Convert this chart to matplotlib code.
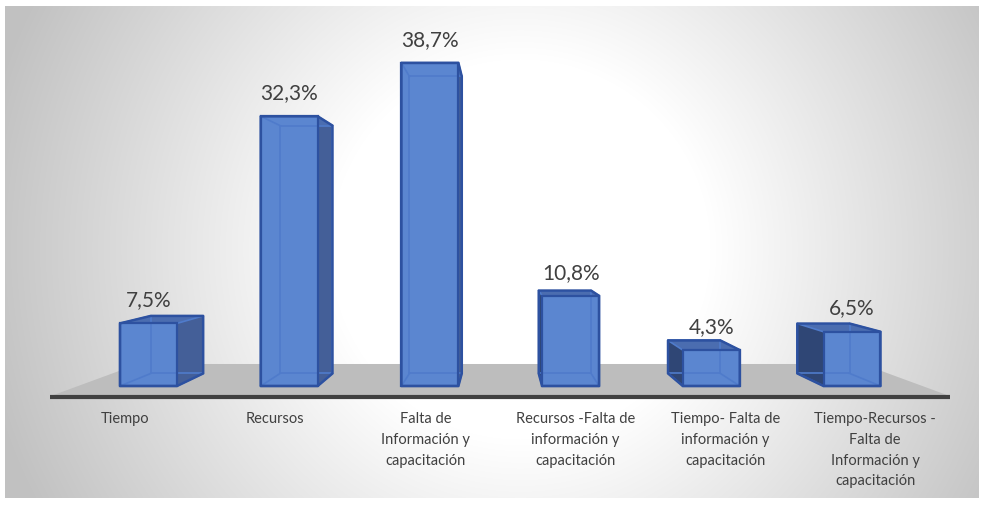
import numpy as np
import matplotlib
matplotlib.use("Agg")
import matplotlib.pyplot as plt
from matplotlib.patches import Polygon

plt.rcParams['font.family'] = ['Lato', 'DejaVu Sans']

# data
categorias = ["Tiempo", "Recursos", "Falta de\nInformación y\ncapacitación",
              "Recursos -Falta de\ninformación y\ncapacitación",
              "Tiempo- Falta de\ninformación y\ncapacitación",
              "Tiempo-Recursos -\nFalta de\nInformación y\ncapacitación"]
valores = [7.5, 32.3, 38.7, 10.8, 4.3, 6.5]
etiquetas = ["7,5%", "32,3%", "38,7%", "10,8%", "4,3%", "6,5%"]

W, H = 982, 506
x0_px, dx_px = 148.5, 140.7      # pixel position of first bar, spacing
y0_px, dy_px = 387.0, 8.35       # pixel of base, pixels per percent

def xd(px):
    return (px - x0_px) / dx_px

def yd(py):
    return (y0_px - py) / dy_px

# perspective: vanishing point and depth scale
VX, VY = 2.5, yd(232)
S_BACK = 0.919
S_FLOOR_FRONT, S_FLOOR_BACK = 1.066, 0.858
BAR_W = 0.405

def proj(x, y, s):
    return (VX + (x - VX) * s, VY + (y - VY) * s)

fig = plt.figure(figsize=(W / 100, H / 100), dpi=100)
ax = fig.add_axes([0, 0, 1, 1])
ax.axis('off')

# radial background of the chart area
gx, gy = np.meshgrid(np.arange(5, 979), np.arange(7, 499))
r = np.hypot(gx - 520, gy - 250)
g = 1.0 - (62 / 255) * np.clip((r - 190) / 360, 0, 1)
img = np.dstack([g, g, g])
ax.imshow(img, extent=(xd(5), xd(979), yd(499), yd(7)), origin='upper',
          aspect='auto', zorder=0, interpolation='bilinear')

# floor
fl, fr = -0.5, 5.5
floor = [proj(fl, 0, S_FLOOR_FRONT), proj(fr, 0, S_FLOOR_FRONT),
         proj(fr, 0, S_FLOOR_BACK), proj(fl, 0, S_FLOOR_BACK)]
ax.add_patch(Polygon(floor, closed=True, facecolor='#bdbdbd',
                     edgecolor='none', zorder=1))
fa, fb = floor[0], floor[1]
ax.plot([fa[0], fb[0]], [fa[1] - 0.1, fb[1] - 0.1], color='#404040', lw=3,
        solid_capstyle='butt', zorder=2)


def hull(points):
    pts = sorted(set(points))
    def cross(o, a, b):
        return (a[0]-o[0])*(b[1]-o[1]) - (a[1]-o[1])*(b[0]-o[0])
    lower, upper = [], []
    for p in pts:
        while len(lower) >= 2 and cross(lower[-2], lower[-1], p) <= 0:
            lower.pop()
        lower.append(p)
    for p in reversed(pts):
        while len(upper) >= 2 and cross(upper[-2], upper[-1], p) <= 0:
            upper.pop()
        upper.append(p)
    return lower[:-1] + upper[:-1]


edge_dark = '#2d51a0'
edge_light = '#4f7bcb'
for i, v in enumerate(valores):
    xl, xr = i - BAR_W / 2, i + BAR_W / 2
    front = [(xl, 0), (xr, 0), (xr, v), (xl, v)]
    back = [proj(x, y, S_BACK) for x, y in front]

    # side face, towards the vanishing point
    if i < VX:
        side = [front[1], front[2], back[2], back[1]]
        side_col = '#445f98'
    else:
        side = [front[0], front[3], back[3], back[0]]
        side_col = '#2f4675'
    ax.add_patch(Polygon(side, closed=True, facecolor=side_col,
                         edgecolor='none', zorder=3))
    top = [front[3], front[2], back[2], back[3]]
    ax.add_patch(Polygon(top, closed=True, facecolor='#4b6db0',
                         edgecolor='none', zorder=3))
    ax.add_patch(Polygon(front, closed=True, facecolor='#5b86d0',
                         edgecolor='none', zorder=4))

    # hidden edges seen through the bar
    bx = [p[0] for p in back] + [back[0][0]]
    by = [p[1] for p in back] + [back[0][1]]
    ax.plot(bx, by, color=edge_light, lw=1.2, zorder=5)
    for f, b in zip(front, back):
        ax.plot([f[0], b[0]], [f[1], b[1]], color=edge_light, lw=1.2, zorder=5)

    # outline
    h = hull(front + back)
    ax.add_patch(Polygon(h, closed=True, fill=False, edgecolor=edge_dark,
                         lw=1.8, joinstyle='round', zorder=6))
    ax.add_patch(Polygon(front, closed=True, fill=False, edgecolor=edge_dark,
                         lw=1.6, zorder=6))

    ax.text(i, v + 2.9, etiquetas[i], ha='center', va='center',
            fontsize=15, color='#404040', zorder=7)

    lx = VX + (i - VX) * S_FLOOR_FRONT
    ax.text(lx, yd(412), categorias[i], ha='center', va='top',
            fontsize=10.5, color='#404040', linespacing=1.62, zorder=7)

ax.set_xlim(xd(0), xd(W))
ax.set_ylim(yd(H), yd(0))

fig.savefig('out.png', dpi=100, facecolor='white')
